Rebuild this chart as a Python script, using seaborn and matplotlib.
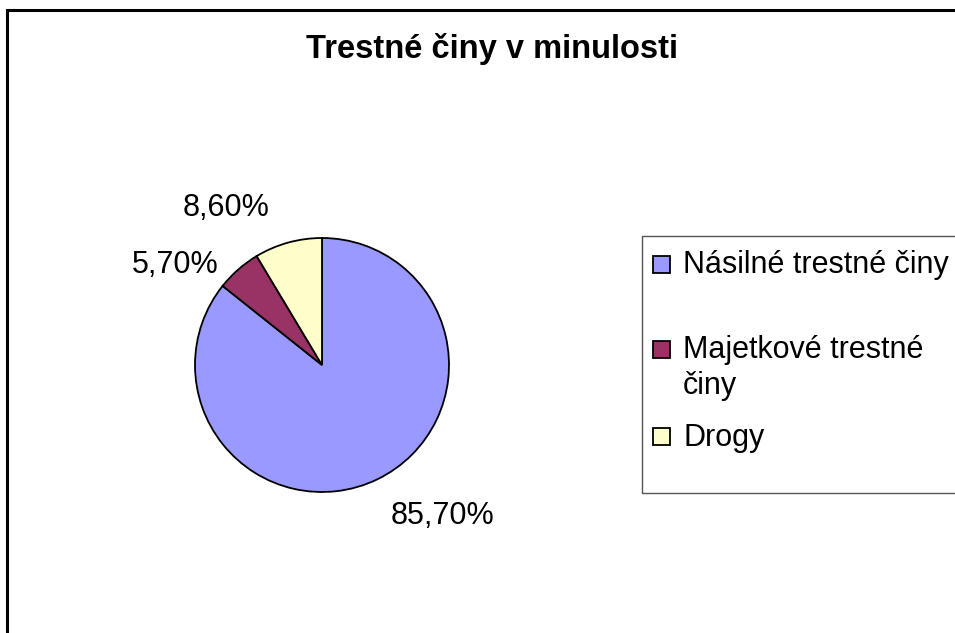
import matplotlib
matplotlib.use("Agg")
import matplotlib.pyplot as plt
import matplotlib.patches as mpatches
import seaborn as sns

# data
categories = ["Násilné trestné činy", "Majetkové trestné\nčiny", "Drogy"]
shares = [85.7, 5.7, 8.6]
pct_labels = ["85,70%", "5,70%", "8,60%"]
title = "Trestné činy v minulosti"

sns.set_theme(style="white")
plt.rcParams["font.family"] = ["Liberation Sans", "DejaVu Sans"]
plt.rcParams["text.color"] = "black"
colors = sns.color_palette(["#9999FF", "#993366", "#FFFFCC"])

W, H = 955, 633
fig = plt.figure(figsize=(W / 100, H / 100), dpi=100)

# outer chart frame (runs off right / bottom edges like the original)
top = 1 - 10 / H
fig.patches.append(mpatches.Rectangle((7 / W, -0.2), 1.2, top + 0.2,
                                      transform=fig.transFigure, fill=False,
                                      edgecolor="black", linewidth=2.2))

# pie axes: center (322, 365), radius 127 px
cx, cy, r = 322, 365, 127
ax = fig.add_axes([(cx - r) / W, (H - cy - r) / H, 2 * r / W, 2 * r / H])
wedges, _ = ax.pie(shares, colors=colors, startangle=90, counterclock=False,
                   wedgeprops=dict(edgecolor="black", linewidth=1.3))
ax.set_xlim(-1, 1)
ax.set_ylim(-1, 1)
ax.axis("off")

# percentage labels placed like Excel did
label_pos = [(442, 516), (175, 265), (226, 208)]
for txt, (px, py) in zip(pct_labels, label_pos):
    ax.text((px - cx) / r, (cy - py) / r, txt, ha="center", va="center",
            fontsize=22, color="black")

fig.text(492 / W, 1 - 49 / H, title, ha="center", va="center",
         fontsize=23.5, fontweight="bold", color="black")

# legend box drawn by hand to keep Excel's uneven spacing
fig.patches.append(mpatches.Rectangle((642 / W, 1 - 493 / H), 0.5, 257 / H,
                                      transform=fig.transFigure, fill=False,
                                      edgecolor="#555555", linewidth=1))
entry_y = [265, 368, 438]
box_y = [265, 350, 437]
for name, col, ty, by in zip(categories, colors, entry_y, box_y):
    fig.patches.append(mpatches.Rectangle((653 / W, 1 - (by + 8) / H), 17 / W, 17 / H,
                                          transform=fig.transFigure,
                                          facecolor=col, edgecolor="black",
                                          linewidth=1.3))
    fig.text(683 / W, 1 - ty / H, name, ha="left", va="center",
             fontsize=22, linespacing=1.25, color="black")

fig.savefig("out.png", dpi=100)
